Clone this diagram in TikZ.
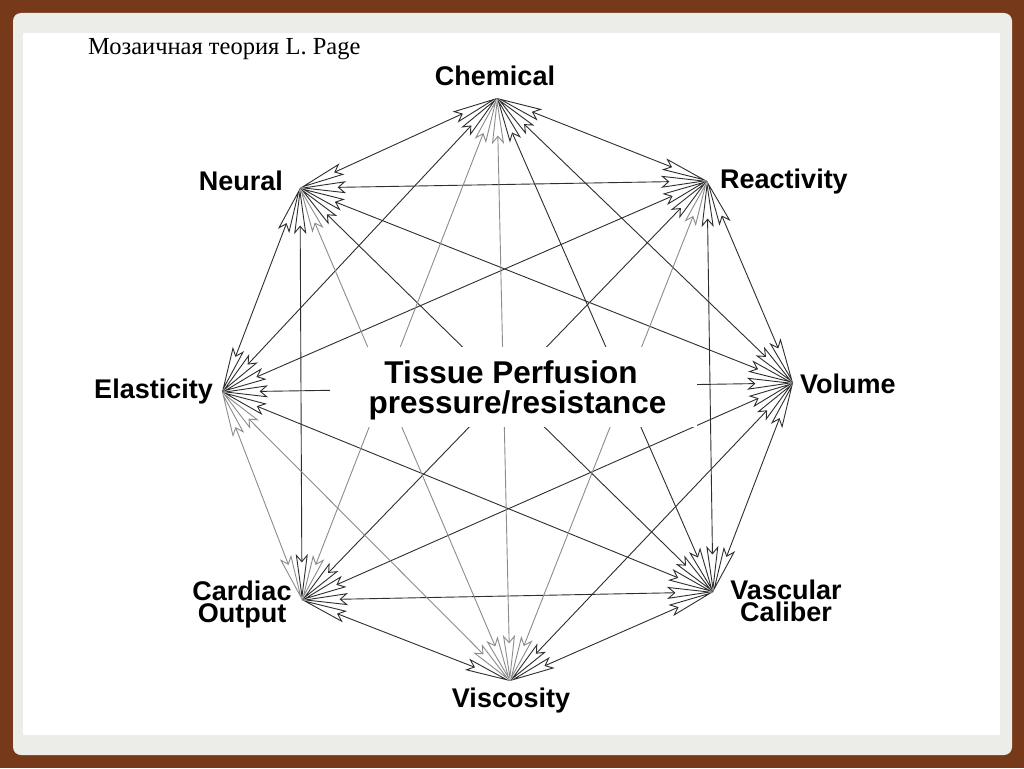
\documentclass[tikz,border=0pt]{standalone}
\usepackage{fontspec}
\setmainfont{Liberation Serif}
\newfontfamily\lsans{Liberation Sans}
\usetikzlibrary{arrows.meta}
\definecolor{framebrown}{RGB}{118,58,26}
\definecolor{panelgray}{RGB}{236,236,233}
\begin{document}
\begin{tikzpicture}[x=1pt,y=-1pt,
  lbl/.style={font=\lsans\bfseries\fontsize{27}{22}\selectfont, inner sep=0pt, align=center},
  ctr/.style={font=\lsans\bfseries\fontsize{31.5}{30}\selectfont, inner sep=0pt, align=center},
  dart/.tip={Stealth[open,length=46pt,width=12pt,inset=7pt]},
  link/.style={draw=black!82, line width=0.9pt, dart-dart},
  flink/.style={link, draw=black!45},
]
\useasboundingbox (0,0) rectangle (1024,768);
% frame
\fill[framebrown] (0,0) rectangle (1024,768);
\fill[panelgray, rounded corners=8pt] (13,13) rectangle (1012,755);
\fill[white] (23,33) rectangle (1000,735);

% title
\node[anchor=base west, font=\fontsize{24.5}{24.5}\selectfont, inner sep=0pt] (title) at (88,55) {Мозаичная теория L. Page};

% vertices
\coordinate (Ch) at (497,98);
\coordinate (Re) at (707,181);
\coordinate (Vo) at (793,383);
\coordinate (Va) at (713,592);
\coordinate (Vi) at (510,681);
\coordinate (Ca) at (302,600);
\coordinate (El) at (222,392);
\coordinate (Ne) at (300,188);

% edges
\foreach \a/\b in {Ch/Re, Ch/Vo, Ch/Va, Ch/El, Ch/Ne,
                   Re/Vo, Re/Va, Re/Ca, Re/El, Re/Ne,
                   Vo/Va, Vo/Vi, Vo/Ca, Vo/El, Vo/Ne,
                   Va/Vi, Va/Ca, Va/El, Va/Ne,
                   Vi/Ca, Ca/Ne, El/Ne}
  \draw[link] (\a) -- (\b);
\foreach \a/\b in {Ch/Ca, Ch/Vi, El/Vi, Ne/Vi, Re/Vi, El/Ca}
  \draw[flink] (\a) -- (\b);

% centre
\node[fill=white, minimum width=367pt, minimum height=80pt, inner sep=0pt] (box) at (513.5,387) {};
\node[ctr] (tp) at (517.5,390) {Tissue Perfusion\kern13pt\\pressure/resistance};

% labels
\node[lbl, anchor=base] (chem) at (495,85) {Chemical};
\node[lbl, anchor=base east] (neur) at (283,190) {Neural};
\node[lbl, anchor=base west] (reac) at (720,188) {Reactivity};
\node[lbl, anchor=base east] (elas) at (213,398) {Elasticity};
\node[lbl, anchor=base west] (volu) at (800,393) {Volume};
\node[lbl] (card) at (242,605) {Cardiac\\Output};
\node[lbl] (vasc) at (786,601) {Vascular\\Caliber};
\node[lbl, anchor=base] (visc) at (511,707) {Viscosity};
\end{tikzpicture}
\end{document}
